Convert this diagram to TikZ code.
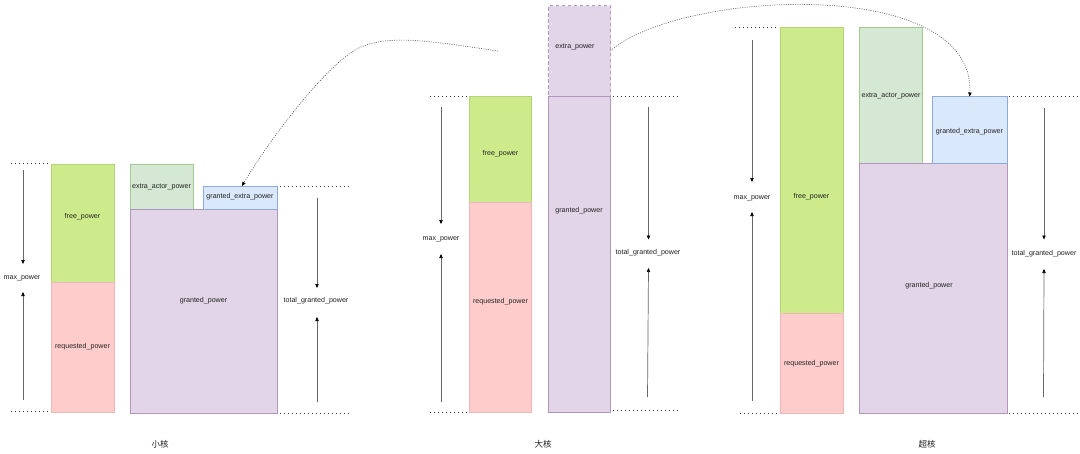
\documentclass[tikz,border=0pt]{standalone}
\usepackage{fontspec}
\setmainfont{Liberation Sans}
\newfontfamily\cjk{Noto Sans CJK SC}
\usetikzlibrary{arrows.meta}
\definecolor{freefill}{HTML}{CDEB8B}
\definecolor{freedraw}{HTML}{B5D47A}
\definecolor{reqfill}{HTML}{FFCCCC}
\definecolor{reqdraw}{HTML}{EDB8B8}
\definecolor{eafill}{HTML}{D5E8D4}
\definecolor{eadraw}{HTML}{A3C994}
\definecolor{gefill}{HTML}{DAE8FC}
\definecolor{gedraw}{HTML}{8EAAD6}
\definecolor{gpfill}{HTML}{E1D5E7}
\definecolor{gpdraw}{HTML}{B196C0}
\definecolor{txt}{HTML}{222222}
\newcommand{\mybar}[6]{\node[barbox,#6,minimum width={#4-#2},minimum height={#5-#3}] (#1) at ({(#2+#4)/2},{(#3+#5)/2}) {};}
\tikzset{
  barbox/.style={draw, inner sep=0pt, outer sep=0pt, line width=0.7pt},
  lbl/.style={text=txt, inner sep=0pt},
  dotline/.style={draw=black!80, line width=0.8pt, dash pattern=on 0.8pt off 3.2pt},
  vec/.style={draw=black!60, line width=0.7pt, -{Triangle[length=4pt,width=3.4pt,color=black]}},
  curvy/.style={draw=black!65, line width=0.6pt, dash pattern=on 1pt off 1.3pt, -{Triangle[length=4pt,width=3.4pt,color=black]}},
  zh/.style={font=\cjk\fontsize{8.5}{10}\selectfont, text=txt, inner sep=0pt}
}
\begin{document}
\begin{tikzpicture}[x=1pt,y=-1pt,font=\fontsize{7.1}{8.5}\selectfont]
\useasboundingbox[fill=white] (0,0) rectangle (1080,453);

% ---------- left group ----------
\mybar{free1}{51}{164}{114}{282}{fill=freefill,draw=freedraw}
\mybar{req1}{51}{282}{114}{412}{fill=reqfill,draw=reqdraw}
\mybar{eap1}{130}{164}{193}{209}{fill=eafill,draw=eadraw}
\mybar{gp1}{130}{209}{277}{413}{fill=gpfill,draw=gpdraw}
\mybar{gep1}{203}{186}{277}{209}{fill=gefill,draw=gedraw}
\node[lbl] (tfree1) at (82.5,217) {free\_power};
\node[lbl] (treq1) at (82.5,347) {requested\_power};
\node[lbl] (teap1) at (161.5,187) {extra\_actor\_power};
\node[lbl] (tgep1) at (240,197) {granted\_extra\_power};
\node[lbl] (tgp1) at (203.5,301) {granted\_power};
\node[lbl] (max1) at (22,278) {max\_power};
\node[lbl] (tot1) at (316,301) {total\_granted\_power};
\coordinate (d1a) at (11,163); \coordinate (d1b) at (49,163);
\coordinate (d1c) at (11,411); \coordinate (d1d) at (49,411);
\coordinate (d1e) at (280,186); \coordinate (d1f) at (350,186);
\coordinate (d1g) at (280,413); \coordinate (d1h) at (350,413);
\draw[dotline] (d1a) -- (d1b); \draw[dotline] (d1c) -- (d1d);
\draw[dotline] (d1e) -- (d1f); \draw[dotline] (d1g) -- (d1h);
\coordinate (a1a) at (23,170); \coordinate (a1b) at (23,264);
\coordinate (a1c) at (23,400); \coordinate (a1d) at (23,292);
\coordinate (a1e) at (317,198); \coordinate (a1f) at (317,288);
\coordinate (a1g) at (317,402); \coordinate (a1h) at (317,317);
\draw[vec] (a1a) -- (a1b); \draw[vec] (a1c) -- (a1d);
\draw[vec] (a1e) -- (a1f); \draw[vec] (a1g) -- (a1h);

% ---------- middle group ----------
\mybar{free2}{469.5}{96}{531.5}{202.5}{fill=freefill,draw=freedraw}
\mybar{req2}{469.5}{202.5}{531.5}{412.5}{fill=reqfill,draw=reqdraw}
\mybar{gp2}{548.5}{96}{610.5}{412.5}{fill=gpfill,draw=gpdraw}
\mybar{ep2}{548.5}{5.5}{610.5}{96}{fill=gpfill,draw=gpdraw,line width=0.9pt,dash pattern=on 3.5pt off 2.5pt}
\node[lbl] (tfree2) at (500.5,154) {free\_power};
\node[lbl] (treq2) at (500.5,302) {requested\_power};
\node[lbl] (tep2) at (575,47) {extra\_power};
\node[lbl] (tgp2) at (579,211) {granted\_power};
\node[lbl] (max2) at (441,239) {max\_power};
\node[lbl] (tot2) at (648,253) {total\_granted\_power};
\coordinate (d2a) at (430,96); \coordinate (d2b) at (467,96);
\coordinate (d2c) at (430,412.5); \coordinate (d2d) at (467,412.5);
\coordinate (d2e) at (613,96); \coordinate (d2f) at (680,96);
\coordinate (d2g) at (613,410.5); \coordinate (d2h) at (680,410.5);
\draw[dotline] (d2a) -- (d2b); \draw[dotline] (d2c) -- (d2d);
\draw[dotline] (d2e) -- (d2f); \draw[dotline] (d2g) -- (d2h);
\coordinate (a2a) at (441,107); \coordinate (a2b) at (441,224);
\coordinate (a2c) at (441,402); \coordinate (a2d) at (441,254);
\coordinate (a2e) at (648.5,107); \coordinate (a2f) at (648.5,239.5);
\coordinate (a2g) at (647.5,397); \coordinate (a2h) at (648.5,268);
\draw[vec] (a2a) -- (a2b); \draw[vec] (a2c) -- (a2d);
\draw[vec] (a2e) -- (a2f); \draw[vec] (a2g) -- (a2h);

% ---------- right group ----------
\mybar{free3}{780}{27.5}{843}{313}{fill=freefill,draw=freedraw}
\mybar{req3}{780}{313}{843}{413}{fill=reqfill,draw=reqdraw}
\mybar{eap3}{859.5}{27.5}{922.5}{163.5}{fill=eafill,draw=eadraw}
\mybar{gp3}{859.5}{163.5}{1007}{413.5}{fill=gpfill,draw=gpdraw}
\mybar{gep3}{932.5}{96.5}{1007}{163.5}{fill=gefill,draw=gedraw}
\node[lbl] (tfree3) at (811.5,197) {free\_power};
\node[lbl] (treq3) at (811.5,363.5) {requested\_power};
\node[lbl] (teap3) at (891,95.5) {extra\_actor\_power};
\node[lbl] (tgep3) at (969.5,132) {granted\_extra\_power};
\node[lbl] (tgp3) at (929,286) {granted\_power};
\node[lbl] (max3) at (752,198) {max\_power};
\node[lbl] (tot3) at (1044,254) {total\_granted\_power};
\coordinate (d3a) at (735,27); \coordinate (d3b) at (777,27);
\coordinate (d3c) at (740,413); \coordinate (d3d) at (777,413);
\coordinate (d3e) at (1009,96.5); \coordinate (d3f) at (1078,96.5);
\coordinate (d3g) at (1009,413.5); \coordinate (d3h) at (1078,413.5);
\draw[dotline] (d3a) -- (d3b); \draw[dotline] (d3c) -- (d3d);
\draw[dotline] (d3e) -- (d3f); \draw[dotline] (d3g) -- (d3h);
\coordinate (a3a) at (752,40); \coordinate (a3b) at (752,182);
\coordinate (a3c) at (752,401); \coordinate (a3d) at (752,212);
\coordinate (a3e) at (1044,108); \coordinate (a3f) at (1044,239.5);
\coordinate (a3g) at (1043.5,397); \coordinate (a3h) at (1044,269);
\draw[vec] (a3a) -- (a3b); \draw[vec] (a3c) -- (a3d);
\draw[vec] (a3e) -- (a3f); \draw[vec] (a3g) -- (a3h);

% ---------- curved connectors ----------
\coordinate (c1s) at (498,51);
\coordinate (c1m) at (355,50);
\draw[curvy] (c1s) .. controls (430,41) and (385,33) .. (c1m)
  .. controls (322,70) and (268,142) .. ([xshift=2pt]gep1.north);
\draw[curvy] (ep2.east) .. controls (680,-10) and (975,-25) .. (gep3.north);

% ---------- captions ----------
\node[zh] (cap1) at (160,444) {小核};
\node[zh] (cap2) at (543,444) {大核};
\node[zh] (cap3) at (927,444) {超核};
\end{tikzpicture}
\end{document}
